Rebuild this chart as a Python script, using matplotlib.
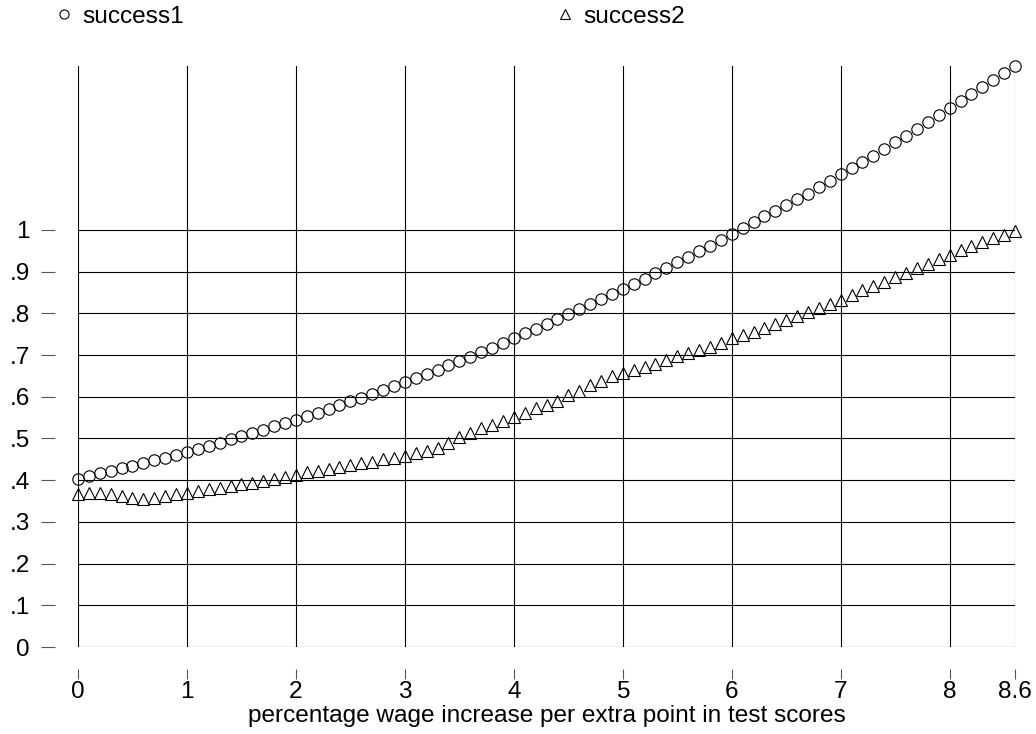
import matplotlib
matplotlib.use("Agg")
import matplotlib.pyplot as plt
import numpy as np

plt.rcParams['font.family'] = ['Liberation Sans', 'DejaVu Sans']

# x grid: 0.0 .. 8.6 in steps of 0.1
x_vals = np.round(np.arange(87) * 0.1, 1)

success1 = [
    0.403, 0.411, 0.418, 0.423, 0.429, 0.435, 0.442, 0.448, 0.454, 0.461,
    0.467, 0.475, 0.482, 0.490, 0.498, 0.506, 0.514, 0.521, 0.529, 0.537,
    0.545, 0.553, 0.562, 0.571, 0.580, 0.589, 0.598, 0.607, 0.616, 0.626,
    0.635, 0.645, 0.655, 0.665, 0.675, 0.685, 0.696, 0.707, 0.718, 0.729,
    0.740, 0.752, 0.763, 0.775, 0.787, 0.798, 0.810, 0.822, 0.834, 0.846,
    0.858, 0.871, 0.883, 0.896, 0.909, 0.922, 0.935, 0.949, 0.962, 0.976,
    0.991, 1.005, 1.019, 1.033, 1.046, 1.059, 1.073, 1.087, 1.102, 1.118,
    1.134, 1.148, 1.163, 1.178, 1.194, 1.210, 1.226, 1.243, 1.259, 1.275,
    1.292, 1.308, 1.325, 1.342, 1.359, 1.376, 1.393,
]

success2 = [
    0.366, 0.369, 0.370, 0.367, 0.362, 0.357, 0.355, 0.357, 0.361, 0.366,
    0.370, 0.374, 0.378, 0.382, 0.386, 0.390, 0.394, 0.398, 0.403, 0.407,
    0.412, 0.419, 0.423, 0.427, 0.432, 0.437, 0.440, 0.444, 0.450, 0.454,
    0.459, 0.465, 0.470, 0.477, 0.489, 0.504, 0.513, 0.525, 0.533, 0.542,
    0.551, 0.562, 0.574, 0.581, 0.591, 0.603, 0.614, 0.627, 0.638, 0.649,
    0.657, 0.664, 0.672, 0.679, 0.688, 0.697, 0.705, 0.713, 0.720, 0.729,
    0.740, 0.748, 0.756, 0.766, 0.775, 0.783, 0.794, 0.802, 0.812, 0.822,
    0.832, 0.844, 0.855, 0.866, 0.876, 0.886, 0.897, 0.909, 0.918, 0.930,
    0.941, 0.951, 0.961, 0.971, 0.981, 0.989, 0.997,
]

x_ticks = [0, 1, 2, 3, 4, 5, 6, 7, 8, 8.6]
x_ticklabels = ['0', '1', '2', '3', '4', '5', '6', '7', '8', '8.6']
y_ticks = [0, 0.1, 0.2, 0.3, 0.4, 0.5, 0.6, 0.7, 0.8, 0.9, 1.0]
y_ticklabels = ['0', '.1', '.2', '.3', '.4', '.5', '.6', '.7', '.8', '.9', '1']

W, H = 1036, 734
fig = plt.figure(figsize=(W / 100, H / 100), dpi=100)
ax = fig.add_axes([78 / W, 1 - 647 / H, (1015 - 78) / W, (647 - 66) / H])

fs = 17.6
px = 72 / 100  # points per pixel

# grid: horizontal lines only up to 1, vertical lines full height
for yv in y_ticks:
    ax.axhline(yv, color='black', lw=0.8, zorder=1)
for xv in x_ticks:
    ax.axvline(xv, color='black', lw=0.8, zorder=1)

l1, = ax.plot(x_vals, success1, linestyle='none', marker='o', ms=8.2,
              mfc='none', mec='black', mew=0.8, clip_on=False, zorder=3)
l2, = ax.plot(x_vals, success2, linestyle='none', marker='^', ms=8.2,
              mfc='none', mec='black', mew=0.8, clip_on=False, zorder=3)

ax.set_xlim(0, 8.6)
ax.set_ylim(0, 1.393)

for s in ax.spines.values():
    s.set_color('none')
ax.spines['left'].set_position(('outward', 23 * px))
ax.spines['bottom'].set_position(('outward', 22 * px))

ax.set_xticks(x_ticks)
ax.set_xticklabels(x_ticklabels)
ax.set_yticks(y_ticks)
ax.set_yticklabels(y_ticklabels)
ax.tick_params(axis='x', length=10 * px, width=0.8, color='#555555',
               pad=2 * px, labelsize=fs)
ax.tick_params(axis='y', length=14 * px, width=0.8, color='#555555',
               pad=11 * px, labelsize=fs)

ax.set_xlabel('percentage wage increase per extra point in test scores',
              fontsize=fs, labelpad=1.5)

leg_kw = dict(frameon=False, fontsize=fs, markerscale=0.8, handlelength=0.6,
              handletextpad=0.42, borderaxespad=0, borderpad=0)
fig.legend([l1], ['success1'], loc='center left',
           bbox_to_anchor=(57 / W, 1 - 17 / H), **leg_kw)
fig.legend([l2], ['success2'], loc='center left',
           bbox_to_anchor=(558 / W, 1 - 17 / H), **leg_kw)

fig.savefig('out.png', dpi=100)
